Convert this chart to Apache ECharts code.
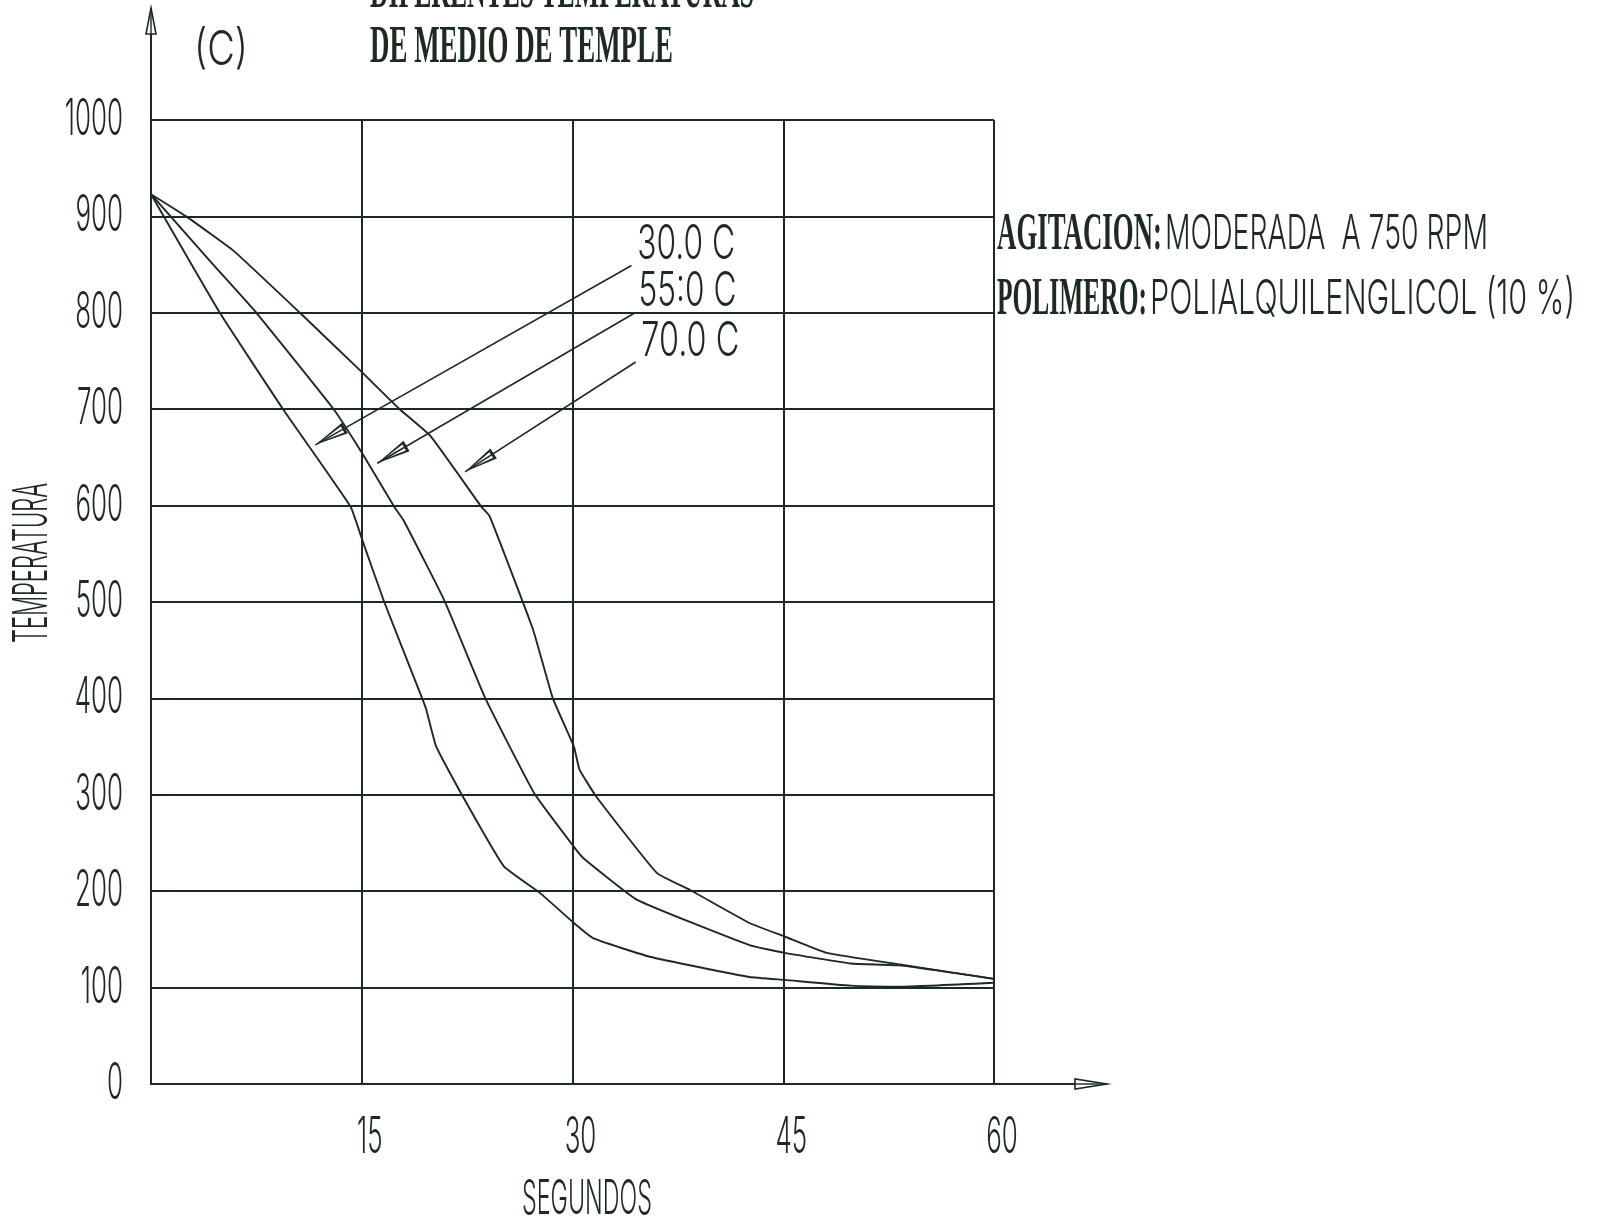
<!DOCTYPE html>
<html>
<head>
<meta charset="utf-8">
<script src="https://cdn.jsdelivr.net/npm/echarts@6/dist/echarts.min.js"></script>
<style>
  html, body { margin: 0; padding: 0; background: #ffffff; }
  #chart { width: 1598px; height: 1224px; }
</style>
</head>
<body>
<div id="chart"></div>
<script>
// Cooling curves of a quenched part in a polymer quenchant held at three bath temperatures.
// Time in seconds, temperature in degrees C.
const seconds30 = [0, 4.9, 9.4, 14.2, 15.0, 16.6, 19.3, 19.6, 20.3, 22.2, 25.1, 27.7, 30.1, 31.5, 35.5, 42.6, 45.1, 49.8, 53.5, 60];
const temp30    = [923, 800, 700, 599, 566, 500, 400, 388, 350, 298, 226, 198, 167, 151, 132, 111, 108, 102, 101, 105];

const seconds55 = [0, 4.3, 7.5, 13.0, 15.0, 17.3, 18.0, 20.9, 23.8, 27.3, 30.1, 30.8, 34.6, 42.6, 45.1, 49.8, 53.3, 60];
const temp55    = [923, 852, 800, 700, 655, 599, 584, 501, 400, 301, 246, 234, 191, 144, 136, 125, 123, 109];

const seconds70 = [0, 2.5, 5.9, 10.6, 14.9, 17.7, 19.9, 23.5, 24.1, 27.2, 28.6, 30.1, 30.5, 31.7, 36.0, 38.4, 42.6, 45.1, 48.1, 53.3, 60];
const temp70    = [923, 900, 864, 800, 740, 700, 672, 599, 589, 471, 400, 350, 326, 298, 219, 201, 167, 153, 136, 124, 109];

// Tick values shown on the two axes.
const yTickValues = [0, 100, 200, 300, 400, 500, 600, 700, 800, 900, 1000];
const xTickValues = [15, 30, 45, 60];

// Callouts naming each bath temperature: label anchor, arrow start and arrow tip (data coordinates).
const calloutText = ['30.0 C', '55:0 C', '70.0 C'];
const calloutAt   = [[34.6, 871], [34.7, 822], [34.9, 770]];
const calloutFrom = [[34.2, 849], [34.45, 800], [34.5, 749]];
const calloutTo   = [[11.7, 663], [16.1, 644], [22.35, 635]];

const INK = '#1c2a1f';
const THIN = '300 48px Inter, "Liberation Sans", sans-serif';
const THIN_TICK = '300 50px Inter, "Liberation Sans", sans-serif';
const HEAVY = 'bold 53px "Liberation Serif", "DejaVu Serif", serif';

// Hollow, narrow arrowhead pointing up (outer and inner triangles wound in opposite directions).
const ARROW_HEAD = 'path://M6,0 L12,36 L0,36 Z M6,7 L2.6,33 L9.4,33 Z';

function zip(xs, ys) { return xs.map((x, i) => [x, ys[i]]); }

const curves = [
  { name: '30.0 C', data: zip(seconds30, temp30) },
  { name: '55:0 C', data: zip(seconds55, temp55) },
  { name: '70.0 C', data: zip(seconds70, temp70) }
];

const chart = echarts.init(document.getElementById('chart'), null, { renderer: 'canvas' });

const series = curves.map((c, i) => ({
  type: 'line',
  name: c.name,
  data: c.data,
  showSymbol: false,
  symbol: 'none',
  smooth: 0.12,
  clip: false,
  lineStyle: { color: INK, width: 1.9 },
  z: 3,
  markLine: {
    silent: true,
    animation: false,
    label: { show: false },
    lineStyle: { color: INK, width: 1.6, type: 'solid' },
    data: [[
      { coord: calloutFrom[i], symbol: 'none' },
      { coord: calloutTo[i], symbol: ARROW_HEAD, symbolSize: [12, 34], symbolOffset: [0, '50%'] }
    ]]
  }
}));

chart.setOption({
  animation: false,
  backgroundColor: '#ffffff',
  grid: { left: 151, right: 604, top: 120, bottom: 140, containLabel: false },
  xAxis: {
    type: 'value',
    min: 0, max: 60, interval: 15,
    axisLine: { show: true, onZero: false, lineStyle: { color: INK, width: 2 } },
    axisTick: { show: false },
    splitLine: { show: true, lineStyle: { color: INK, width: 2 } },
    axisLabel: { show: false }
  },
  yAxis: {
    type: 'value',
    min: 0, max: 1000, interval: 100,
    axisLine: { show: true, onZero: false, lineStyle: { color: INK, width: 2 } },
    axisTick: { show: false },
    splitLine: { show: true, lineStyle: { color: INK, width: 2 } },
    axisLabel: { show: false }
  },
  series: series
});

// Text set in a condensed, drafting-style hand.
const measure = document.createElement('canvas').getContext('2d');
function textWidth(text, font) { measure.font = font; return measure.measureText(text).width; }

function scaledText(text, font, x, y, scaleX, align, extra) {
  return Object.assign({
    type: 'text', x: x, y: y, scaleX: scaleX, silent: true,
    style: { text: text, font: font, fill: INK, textAlign: align || 'left', textVerticalAlign: 'middle' }
  }, extra || {});
}
// Fit a string to the width it occupies.
function fittedText(text, font, x, y, width, extra) {
  return scaledText(text, font, x, y, width / textWidth(text, font), 'left', extra);
}

const toPx = p => chart.convertToPixel({ gridIndex: 0 }, p);

// Axis arrows extend past the plotting frame.
const origin = toPx([0, 0]);
const yTop = toPx([0, 1000]);
const xEnd = toPx([60, 0]);
const yTip = 8, xTip = xEnd[0] + 113;

function hollowHead(tip, dir, len, half) {
  const bx = tip[0] - dir[0] * len, by = tip[1] - dir[1] * len;
  const nx = -dir[1], ny = dir[0];
  return {
    type: 'polygon', silent: true,
    shape: { points: [tip, [bx + nx * half, by + ny * half], [bx - nx * half, by - ny * half]] },
    style: { fill: '#ffffff', stroke: INK, lineWidth: 1.6 }
  };
}

// Digits are drawn about 16 px wide each.
const digitScale = 32 / textWidth('00', THIN_TICK);

const graphic = [
  { type: 'line', silent: true, shape: { x1: origin[0], y1: yTop[1], x2: origin[0], y2: yTip }, style: { stroke: INK, lineWidth: 2 } },
  { type: 'line', silent: true, shape: { x1: xEnd[0], y1: origin[1], x2: xTip, y2: origin[1] }, style: { stroke: INK, lineWidth: 2 } },
  hollowHead([origin[0], yTip], [0, -1], 26, 5),
  hollowHead([xTip, origin[1]], [1, 0], 32, 5),
  { type: 'line', silent: true, shape: { x1: origin[0], y1: yTip + 4, x2: origin[0], y2: yTip + 26 }, style: { stroke: INK, lineWidth: 1.4 } },
  { type: 'line', silent: true, shape: { x1: xTip - 32, y1: origin[1], x2: xTip - 4, y2: origin[1] }, style: { stroke: INK, lineWidth: 1.4 } }
];

// Tick labels placed through the axis scales.
yTickValues.forEach(v => {
  const p = toPx([0, v]);
  graphic.push(scaledText(String(v), THIN_TICK, p[0] - 28, p[1], digitScale, 'right'));
});
xTickValues.forEach(v => {
  const p = toPx([v, 0]);
  graphic.push(scaledText(String(v), THIN_TICK, p[0] + 8, p[1] + 54, digitScale, 'center'));
});

// Callout labels.
calloutAt.forEach((a, i) => {
  const p = toPx(a);
  graphic.push(fittedText(calloutText[i], THIN, p[0], p[1], 98));
});

graphic.push(
  fittedText('DIFERENTES TEMPERATURAS', HEAVY, 370, -7, 384),
  fittedText('DE MEDIO DE TEMPLE', HEAVY, 370, 48, 303),
  fittedText('(C)', THIN, 194, 51, 54),

  fittedText('AGITACION:', HEAVY, 997, 235, 165),
  fittedText('MODERADA  A 750 RPM', THIN, 1165, 235, 323),
  fittedText('POLIMERO:', HEAVY, 997, 300, 150),
  fittedText('POLIALQUILENGLICOL (10 %)', THIN, 1150, 300, 425),

  fittedText('SEGUNDOS', THIN, 522, 1200, 130)
);
const axisTitle = fittedText('TEMPERATURA', THIN, 33, 563, 160, { rotation: Math.PI / 2 });
axisTitle.style.textAlign = 'center';
graphic.push(axisTitle);

chart.setOption({ graphic: graphic });
</script>
</body>
</html>
